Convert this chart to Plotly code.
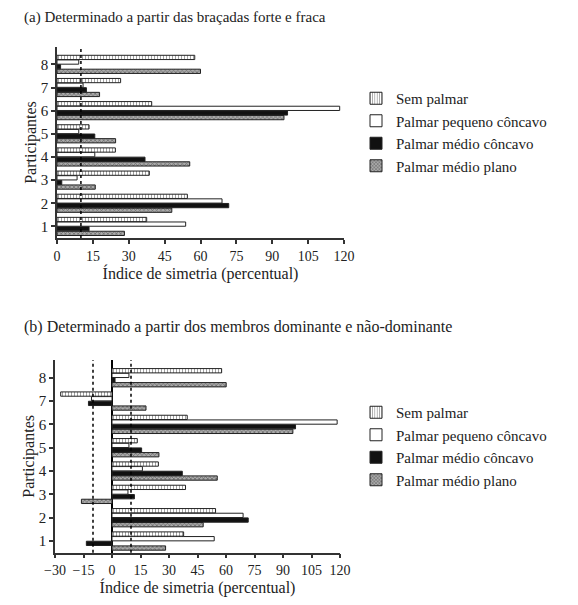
import plotly.graph_objects as go

participantes = [1, 2, 3, 4, 5, 6, 7, 8]

# (a) bracadas forte e fraca
a_sem_palmar = [37.5, 54.5, 38.6, 24.4, 13.4, 39.6, 26.6, 57.6]
a_pequeno_concavo = [53.8, 69.0, 8.4, 15.8, 9.1, 118.2, 10.9, 9.1]
a_medio_concavo = [13.4, 71.8, 2.0, 36.8, 15.8, 96.4, 12.3, 1.5]
a_medio_plano = [28.2, 48.0, 16.0, 55.5, 24.5, 94.9, 17.8, 60.0]

# (b) membros dominante e nao-dominante
b_sem_palmar = [37.7, 54.5, 38.7, 24.4, 13.3, 39.6, -27.0, 57.7]
b_pequeno_concavo = [53.8, 69.0, 8.4, 16.0, 8.9, 118.5, -10.8, 8.9]
b_medio_concavo = [-13.5, 71.7, 11.8, 37.0, 15.6, 96.6, -12.4, 1.6]
b_medio_plano = [28.2, 48.0, -16.1, 55.4, 24.7, 95.2, 17.9, 60.1]

limite = 10  # limite de assimetria (linhas tracejadas)

nomes = ["Sem palmar", "Palmar pequeno côncavo", "Palmar médio côncavo", "Palmar médio plano"]

FONT = "Liberation Serif, Times New Roman, serif"
W, H = 578, 605
OFF = 8  # page margin around the plot


def px(x):
    return (x - OFF) / W


def py(y):
    return 1 - (y - OFF) / H


estilos = {
    "Sem palmar": dict(color="white", pattern=dict(shape="|", fgcolor="#444", bgcolor="white", size=3, solidity=0.35)),
    "Palmar pequeno côncavo": dict(color="white"),
    "Palmar médio côncavo": dict(color="#111"),
    "Palmar médio plano": dict(color="#888", pattern=dict(shape="x", fgcolor="#333", bgcolor="#aaa", size=3, solidity=0.45)),
}

fig = go.Figure()


def add_panel(series, xa, ya, leg):
    # plotly draws first trace at the bottom of each group
    for rank, (nome, vals) in reversed(list(enumerate(zip(nomes, series)))):
        m = dict(estilos[nome])
        m["line"] = dict(color="#222", width=1)
        fig.add_trace(go.Bar(
            x=vals, y=participantes, orientation="h", name=nome,
            marker=m, xaxis=xa, yaxis=ya, legend=leg, legendrank=rank + 1,
        ))


add_panel([a_sem_palmar, a_pequeno_concavo, a_medio_concavo, a_medio_plano], "x", "y", "legend")
add_panel([b_sem_palmar, b_pequeno_concavo, b_medio_concavo, b_medio_plano], "x2", "y2", "legend2")

dash = dict(color="black", width=1.5, dash="dot")
fig.add_shape(type="line", xref="x", yref="y domain", x0=limite, x1=limite, y0=0, y1=1, line=dash)
fig.add_shape(type="line", xref="x2", yref="y2 domain", x0=limite, x1=limite, y0=0, y1=1, line=dash)
fig.add_shape(type="line", xref="x2", yref="y2 domain", x0=-limite, x1=-limite, y0=0, y1=1, line=dash)

eixo = dict(showline=True, linecolor="#333", linewidth=1.5, ticks="outside", ticklen=4,
            tickcolor="#333", tickwidth=1.5, showgrid=False, automargin=False)
xfont = dict(family=FONT, size=14, color="#222")
yfont = dict(family=FONT, size=15, color="#222")
titulo = dict(family=FONT, size=16, color="#222")

fig.update_layout(
    width=W, height=H,
    margin=dict(l=0, r=0, t=0, b=0),
    paper_bgcolor="white", plot_bgcolor="white",
    font=dict(family=FONT, size=14, color="#222"),
    barmode="group", bargap=0.2, bargroupgap=0.08,
    showlegend=True,
    xaxis=dict(eixo, domain=[px(57), px(344)], range=[0, 120], tick0=0, dtick=15,
               zeroline=False, anchor="y", tickfont=xfont,
               title=dict(text="Índice de simetria (percentual)", font=titulo, standoff=0)),
    yaxis=dict(eixo, domain=[py(238), py(47)], range=[0.5, 8.75], dtick=1,
               anchor="x", tickfont=yfont, title=dict(text="Participantes", font=titulo, standoff=0)),
    xaxis2=dict(eixo, domain=[px(55), px(340)], range=[-30, 120], tick0=-30, dtick=15,
                zeroline=True, zerolinecolor="black", zerolinewidth=1.5, anchor="y2", tickfont=xfont,
                title=dict(text="Índice de simetria (percentual)", font=titulo, standoff=0)),
    yaxis2=dict(eixo, domain=[py(552.7), py(360)], range=[0.5, 8.76], dtick=1,
                anchor="x2", tickfont=yfont, title=dict(text="Participantes", font=titulo, standoff=0)),
    legend=dict(x=px(356), y=py(82), xanchor="left", yanchor="top",
                font=dict(family=FONT, size=15), tracegroupgap=3, itemwidth=30),
    legend2=dict(x=px(356), y=py(396), xanchor="left", yanchor="top",
                 font=dict(family=FONT, size=15), tracegroupgap=3, itemwidth=30),
    annotations=[
        dict(text="(a) Determinado a partir das braçadas forte e fraca", xref="paper", yref="paper",
             x=px(22), y=py(18), xanchor="left", yanchor="middle", showarrow=False,
             font=dict(family=FONT, size=15, color="#222")),
        dict(text="(b) Determinado a partir dos membros dominante e não-dominante", xref="paper", yref="paper",
             x=px(22), y=py(327), xanchor="left", yanchor="middle", showarrow=False,
             font=dict(family=FONT, size=16, color="#222")),
    ],
)

fig.write_html("out.html")
